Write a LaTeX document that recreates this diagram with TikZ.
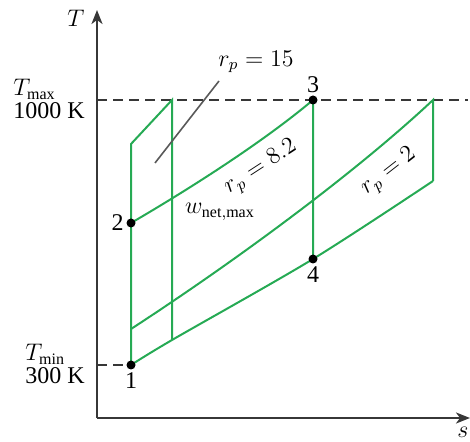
\documentclass[tikz,border=0pt]{standalone}
\usepackage{fontspec}
\setmainfont{Liberation Serif}
\usepackage{amsmath}
\usetikzlibrary{positioning,arrows.meta}
\definecolor{cycgreen}{RGB}{38,170,84}
\definecolor{axgray}{RGB}{55,55,55}

\begin{document}
\begin{tikzpicture}[
  x=0.5pt,y=-0.5pt,
  font=\fontsize{12}{11.5}\selectfont,
  cyc/.style={draw=cycgreen,line width=1pt},
  ax/.style={draw=axgray,line width=1pt,-{Stealth[length=7pt,width=5.5pt,inset=2pt]}},
  lim/.style={draw=axgray,line width=1pt,dash pattern=on 5pt off 3pt},
  ptr/.style={draw=black!65,line width=0.8pt},
  dot/.style={circle,fill=black,inner sep=0pt,minimum size=4.5pt},
  lab/.style={inner sep=1pt},
  side/.style={anchor=west,align=left,inner sep=0pt},
  slant/.style={inner sep=0pt},
]
\useasboundingbox (0,0) rectangle (470,442);
% axes
\coordinate (o) at (97,418);
\coordinate (ttop) at (97,10);
\coordinate (send) at (470,418);
\draw[ax] (o) -- (ttop);
\draw[ax] (o) -- (send);
\node (tlab) at (76,18) {$T$};
\node (slab) at (463,432) {$s$};
% state points
\coordinate (p1) at (131,365);
\coordinate (p2) at (131,223);
\coordinate (p3) at (313,100);
\coordinate (p4) at (313,259);
\coordinate (a2) at (131,144);
\coordinate (a3) at (172,100);
\coordinate (a4) at (172,340);
\coordinate (b2) at (131,329);
\coordinate (b3) at (433,100);
\coordinate (b4) at (433,181);
% temperature limits
\coordinate (tmaxl) at (97,100);
\coordinate (tmaxr) at (468,100);
\coordinate (tminl) at (97,365);
\draw[lim] (tmaxl) -- (tmaxr);
\draw[lim] (tminl) -- (p1);
\node[side] (tmax) at (13,99) {$T_{\max}$\\1000 K};
\node[side] (tmin) at (25,364) {$T_{\min}$\\300 K};
% cycles
\draw[cyc] (p1) -- (a2) -- (a3) -- (a4);
\draw[cyc] (p2) .. controls +(60,-35) and +(-50,42) .. (p3) -- (p4);
\draw[cyc] (b2) .. controls +(100,-65) and +(-80,75) .. (b3) -- (b4);
\draw[cyc] plot[smooth] coordinates {(p1) (a4) (p4) (b4)};
% points
\node[dot] (d1) at (p1) {};
\node[dot] (d2) at (p2) {};
\node[dot] (d3) at (p3) {};
\node[dot] (d4) at (p4) {};
\node[lab,below=0pt of d1] {1};
\node[lab,left=0pt of d2] {2};
\node[lab,above=0pt of d3] {3};
\node[lab,below=0pt of d4] {4};
% labels
\coordinate (ptail) at (155,163);
\coordinate (phead) at (219,81);
\draw[ptr] (ptail) -- (phead);
\node (r15) at (256,62) {$r_p = 15$};
\node[slant,rotate=33] (r82) at (261,168) {$r_p = 8.2$};
\node[slant,rotate=38] (r2) at (389,172) {$r_p = 2$};
\node (wnet) at (220,212) {$w_{\mathrm{net,max}}$};
\end{tikzpicture}
\end{document}
